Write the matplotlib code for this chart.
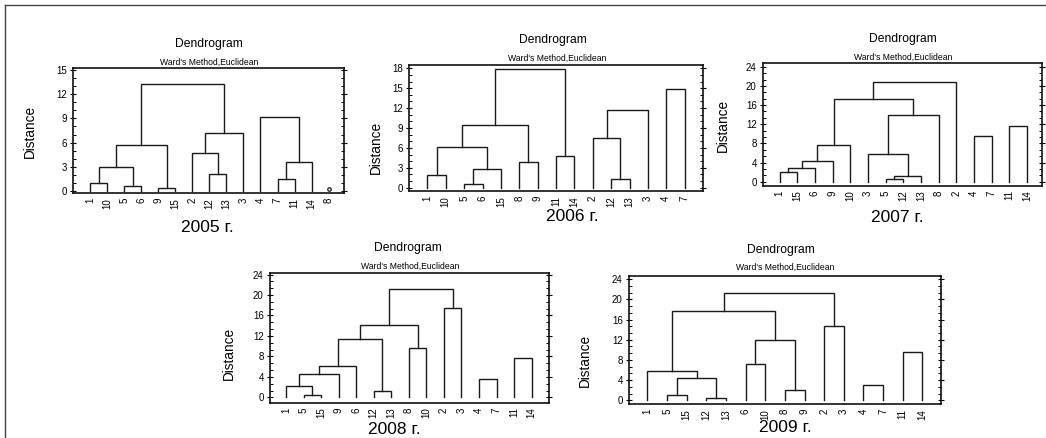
import matplotlib
matplotlib.use('Agg')
from matplotlib import pyplot as plt
from matplotlib.lines import Line2D
from matplotlib.ticker import MultipleLocator, AutoMinorLocator

plt.rcParams['font.family'] = ['Liberation Sans', 'DejaVu Sans']

# leaf order and merges (a, b, height); ints are leaf labels, 'cK' is the K-th merge
leaves_2005 = [1, 10, 5, 6, 9, 15, 2, 12, 13, 3, 4, 7, 11, 14, 8]
merges_2005 = [(1, 10, 0.9), (5, 6, 0.6), (9, 15, 0.3), ('c0', 'c1', 2.9), ('c3', 'c2', 5.7),
               (12, 13, 2.1), (2, 'c5', 4.7), ('c6', 3, 7.2), ('c4', 'c7', 13.3),
               (7, 11, 1.4), ('c9', 14, 3.6), (4, 'c10', 9.2)]

leaves_2006 = [1, 10, 5, 6, 15, 8, 9, 11, 14, 2, 12, 13, 3, 4, 7]
merges_2006 = [(1, 10, 1.9), (5, 6, 0.6), ('c1', 15, 2.8), ('c0', 'c2', 6.15), (8, 9, 3.85),
               ('c3', 'c4', 9.5), (11, 14, 4.85), ('c5', 'c6', 17.9),
               (12, 13, 1.25), (2, 'c8', 7.5), ('c9', 3, 11.7), (4, 7, 14.85)]

leaves_2007 = [1, 15, 6, 9, 10, 3, 5, 12, 13, 8, 2, 4, 7, 11, 14]
merges_2007 = [(1, 15, 2.0), ('c0', 6, 2.8), ('c1', 9, 4.3), ('c2', 10, 7.6),
               (5, 12, 0.6), ('c4', 13, 1.25), (3, 'c5', 5.85), ('c6', 8, 13.9),
               ('c3', 'c7', 17.3), ('c8', 2, 20.75), (4, 7, 9.55), (11, 14, 11.7)]

leaves_2008 = [1, 5, 15, 9, 6, 12, 13, 8, 10, 2, 3, 4, 7, 11, 14]
merges_2008 = [(5, 15, 0.5), (1, 'c0', 2.25), ('c1', 9, 4.6), ('c2', 6, 6.1), (12, 13, 1.15),
               ('c3', 'c4', 11.5), (8, 10, 9.6), ('c5', 'c6', 14.1), (2, 3, 17.5),
               ('c7', 'c8', 21.1), (4, 7, 3.5), (11, 14, 7.7)]

leaves_2009 = [1, 5, 15, 12, 13, 6, 10, 8, 9, 2, 3, 4, 7, 11, 14]
merges_2009 = [(5, 15, 1.0), (12, 13, 0.45), ('c0', 'c1', 4.45), (1, 'c2', 5.77), (6, 10, 7.2),
               (8, 9, 2.0), ('c4', 'c5', 11.87), ('c3', 'c6', 17.6), (2, 3, 14.7),
               ('c7', 'c8', 21.15), (4, 7, 3.1), (11, 14, 9.55)]

years = ['2005 г.', '2006 г.', '2007 г.', '2008 г.', '2009 г.']
all_leaves = [leaves_2005, leaves_2006, leaves_2007, leaves_2008, leaves_2009]
all_merges = [merges_2005, merges_2006, merges_2007, merges_2008, merges_2009]
singletons = [[8], [], [], [], []]

W, H = 1046, 438
# pixel boxes (left, top, right, bottom) and text anchors
boxes = [(73, 68, 344, 193), (409, 65, 703, 191), (763, 63, 1042, 185.5),
         (270, 273, 549, 402.5), (629, 276, 941, 404)]
ylims = [(-0.3, 15.3), (-0.5, 18.5), (-0.8, 24.8), (-1.0, 24.3), (-0.7, 24.6)]
xlims = [(-1.0, 14.9), (-1.0, 15.0), (-0.94, 14.85), (-0.91, 14.99), (-0.94, 14.95)]
major = [3, 3, 4, 4, 4]
title_pos = [(209, 44), (553, 40), (903, 39), (408, 248), (781, 250)]
sub_pos = [(209, 62), (557, 58), (903, 57.5), (410, 266), (785, 267.5)]
ylab_pos = [(30, 131), (376, 147), (723, 125), (229, 353), (585, 360)]
year_pos = [(207, 231.5), (572, 221), (897, 221.5), (394, 434), (785, 432.5)]

line_col = '#1a1a1a'
fig = plt.figure(figsize=(W / 100, H / 100), dpi=100)


def fx(x):
    return x / W


def fy(y):
    return 1 - y / H


def draw_dendro(ax, leaves, merges, single):
    xpos = {lab: i for i, lab in enumerate(leaves)}
    nodes = {}

    def get(k):
        if isinstance(k, int):
            return xpos[k], 0.0
        return nodes[k]

    for i, (a, b, h) in enumerate(merges):
        xa, ha = get(a)
        xb, hb = get(b)
        ax.plot([xa, xa, xb, xb], [ha, h, h, hb], color=line_col, lw=1.0,
                solid_joinstyle='miter')
        nodes['c%d' % i] = ((xa + xb) / 2, h)
    for s in single:
        ax.plot([xpos[s]], [0.15], marker='o', ms=2.5, mfc='white', mec=line_col, mew=0.9)


for k in range(5):
    l, t, r, b = boxes[k]
    ax = fig.add_axes([fx(l), fy(b), (r - l) / W, (b - t) / H])
    draw_dendro(ax, all_leaves[k], all_merges[k], singletons[k])
    ax.set_xlim(*xlims[k])
    ax.set_ylim(*ylims[k])
    ax.set_xticks(range(len(all_leaves[k])))
    ax.set_xticklabels([str(v) for v in all_leaves[k]], rotation=90, fontsize=7)
    ax.tick_params(axis='x', length=0, pad=3.5)
    ax.yaxis.set_major_locator(MultipleLocator(major[k]))
    ax.yaxis.set_minor_locator(AutoMinorLocator(3))
    ax.tick_params(axis='y', which='major', direction='inout', length=5, width=0.8,
                   labelsize=7, right=True, pad=2)
    ax.tick_params(axis='y', which='minor', direction='in', length=2.5, width=0.7, right=True)
    for sp in ax.spines.values():
        sp.set_linewidth(1.2)
        sp.set_color('#111111')

    fig.text(fx(title_pos[k][0]), fy(title_pos[k][1]), 'Dendrogram', fontsize=8.7,
             ha='center', va='center')
    fig.text(fx(sub_pos[k][0]), fy(sub_pos[k][1]), "Ward's Method,Euclidean", fontsize=6.2,
             ha='center', va='center')
    fig.text(fx(ylab_pos[k][0]), fy(ylab_pos[k][1]), 'Distance', fontsize=9.8,
             rotation=90, ha='center', va='center')
    fig.text(fx(year_pos[k][0]), fy(year_pos[k][1]), years[k], fontsize=12.5,
             ha='center', va='baseline')

# outer frame (top and left edges)
fig.add_artist(Line2D([fx(5), 1], [fy(5), fy(5)], color='#444444', lw=1.0))
fig.add_artist(Line2D([fx(5), fx(5)], [fy(5), 0], color='#444444', lw=1.0))

fig.savefig('out.png', dpi=100)
